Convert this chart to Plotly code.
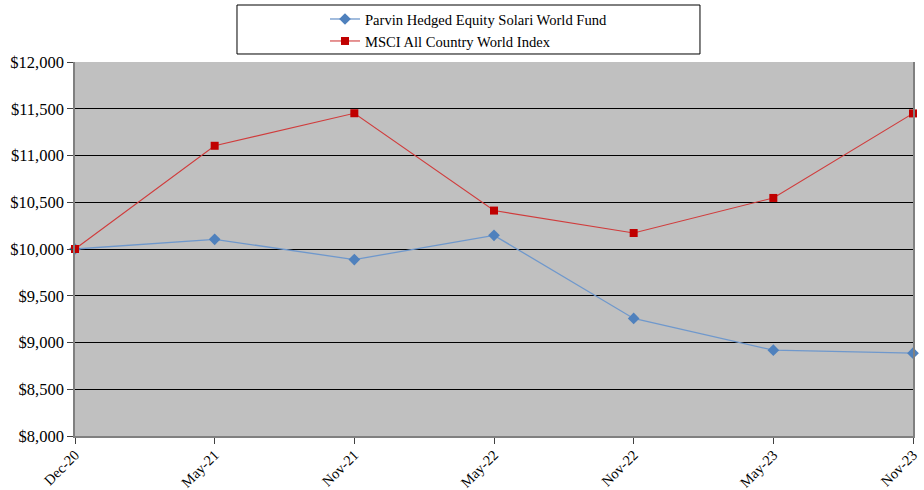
import plotly.graph_objects as go

dates = ["Dec-20", "May-21", "Nov-21", "May-22", "Nov-22", "May-23", "Nov-23"]
fund_values = [10000, 10104, 9887, 10146, 9257, 8918, 8886]
index_values = [10000, 11104, 11452, 10411, 10171, 10546, 11450]
fund_name = "Parvin Hedged Equity Solari World Fund"
index_name = "MSCI All Country World Index"
y_ticks = [8000, 8500, 9000, 9500, 10000, 10500, 11000, 11500, 12000]
y_tick_labels = ["$" + format(v, ",") for v in y_ticks]

FONT = "Liberation Serif"

fig = go.Figure()
fig.add_trace(go.Scatter(
    x=dates, y=fund_values, name=fund_name, mode="lines+markers",
    line=dict(color="#6F98CC", width=1.3),
    marker=dict(symbol="diamond", size=9, color="#4F81BD"),
    cliponaxis=False,
))
fig.add_trace(go.Scatter(
    x=dates, y=index_values, name=index_name, mode="lines+markers",
    line=dict(color="#D03C3C", width=1.1),
    marker=dict(symbol="square", size=8, color="#C00000"),
    cliponaxis=False,
))

fig.update_layout(
    width=924, height=490,
    margin=dict(l=75, r=11, t=62, b=54, autoexpand=False),
    paper_bgcolor="white",
    plot_bgcolor="#C0C0C0",
    font=dict(family=FONT, size=15, color="black"),
    showlegend=True,
    legend=dict(
        xref="container", yref="container",
        x=325 / 924, y=1 - 3 / 490, xanchor="left", yanchor="top",
        bgcolor="rgba(0,0,0,0)", borderwidth=0,
        font=dict(family=FONT, size=14.6, color="black"),
        tracegroupgap=0,
    ),
    shapes=[dict(
        type="rect", xref="paper", yref="paper",
        x0=0.1933, x1=0.7458, y0=1.0214, y1=1.1524,
        line=dict(color="black", width=1), fillcolor="rgba(0,0,0,0)",
    )],
)

fig.update_xaxes(
    type="category", range=[0, len(dates) - 1],
    showgrid=False, showline=True, linecolor="#808080", linewidth=1.5,
    ticks="outside", ticklen=6, tickcolor="#404040",
    ticklabelstandoff=-3,
    tickangle=-45, tickfont=dict(family=FONT, size=14.5, color="black"),
)
fig.update_yaxes(
    range=[8000, 12000], tickvals=y_ticks, ticktext=y_tick_labels,
    showgrid=True, gridcolor="black", gridwidth=1,
    showline=True, linecolor="#808080", linewidth=1.5, mirror=True,
    ticks="outside", ticklen=6, tickcolor="#404040",
    tickfont=dict(family=FONT, size=16.5, color="black"),
    zeroline=False,
)

fig.write_html(
    "out.html",
    config={"displayModeBar": False},
    post_script="document.body.style.margin='0';document.body.style.overflow='hidden';",
)
